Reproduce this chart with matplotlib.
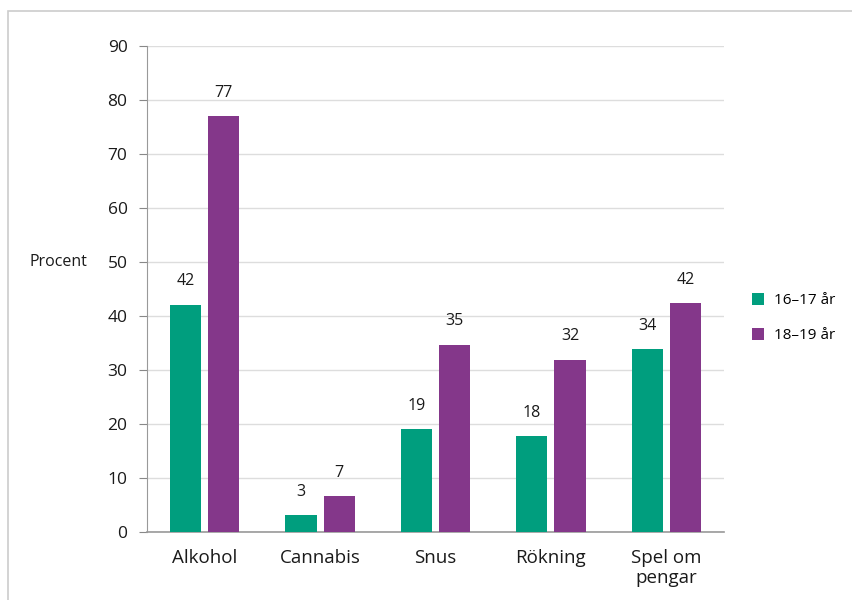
import matplotlib.pyplot as plt
import numpy as np
from matplotlib.patches import Rectangle

plt.rcParams['font.family'] = ['Open Sans', 'DejaVu Sans']

categories = ['Alkohol', 'Cannabis', 'Snus', 'Rökning', 'Spel om\npengar']
age_16_17 = [42.1, 3.1, 19.1, 17.8, 33.9]
age_18_19 = [77.0, 6.7, 34.7, 31.9, 42.4]
labels_16_17 = ['42', '3', '19', '18', '34']
labels_18_19 = ['77', '7', '35', '32', '42']
series_names = ['16–17 år', '18–19 år']

green = '#009e7e'
purple = '#84378a'

fig = plt.figure(figsize=(8.53, 6), dpi=100)
# thin gray frame around the chart
fig.patches.append(Rectangle((8 / 853, -0.01), 1.0, 1 - 11 / 600 + 0.01,
                             transform=fig.transFigure, fill=False,
                             edgecolor='#cccccc', linewidth=1.2))

ax = fig.add_axes([147 / 853, 1 - 532 / 600, (724 - 147) / 853, (532 - 46) / 600])

x = np.arange(len(categories))
w = 0.27
off = 0.165
b1 = ax.bar(x - off, age_16_17, w, color=green, label=series_names[0], zorder=3)
b2 = ax.bar(x + off, age_18_19, w, color=purple, label=series_names[1], zorder=3)

for bars, labs in [(b1, labels_16_17), (b2, labels_18_19)]:
    for bar, lab in zip(bars, labs):
        ax.annotate(lab, (bar.get_x() + bar.get_width() / 2, bar.get_height()),
                    xytext=(0, 11), textcoords='offset points',
                    ha='center', va='bottom', fontsize=11.5, color='#1a1a1a')

ax.set_xlim(-0.5, 4.5)
ax.set_ylim(0, 90)
ax.set_yticks(range(0, 91, 10))
ax.set_xticks(x)
ax.set_xticklabels(categories, fontsize=13.5, color='#1a1a1a', linespacing=1.2)
ax.tick_params(axis='x', length=0, pad=12)
ax.tick_params(axis='y', length=6, width=0.8, color='#888888', labelsize=12.5,
               labelcolor='#1a1a1a', pad=8)

ax.grid(axis='y', color='#dddddd', linewidth=1, zorder=0)
for s in ['top', 'right']:
    ax.spines[s].set_visible(False)
ax.spines['left'].set_color('#999999')
ax.spines['bottom'].set_color('#999999')
ax.spines['bottom'].set_linewidth(1.2)

fig.text(30 / 853, 1 - 262 / 600, 'Procent', fontsize=11.5, va='center',
         ha='left', color='#1a1a1a')

ax.legend(loc='upper left', bbox_to_anchor=(1.025, 0.52), frameon=False,
          handlelength=0.8, handleheight=0.8, handletextpad=0.6,
          labelspacing=1.3, fontsize=11)

plt.savefig('out.png', dpi=100)
